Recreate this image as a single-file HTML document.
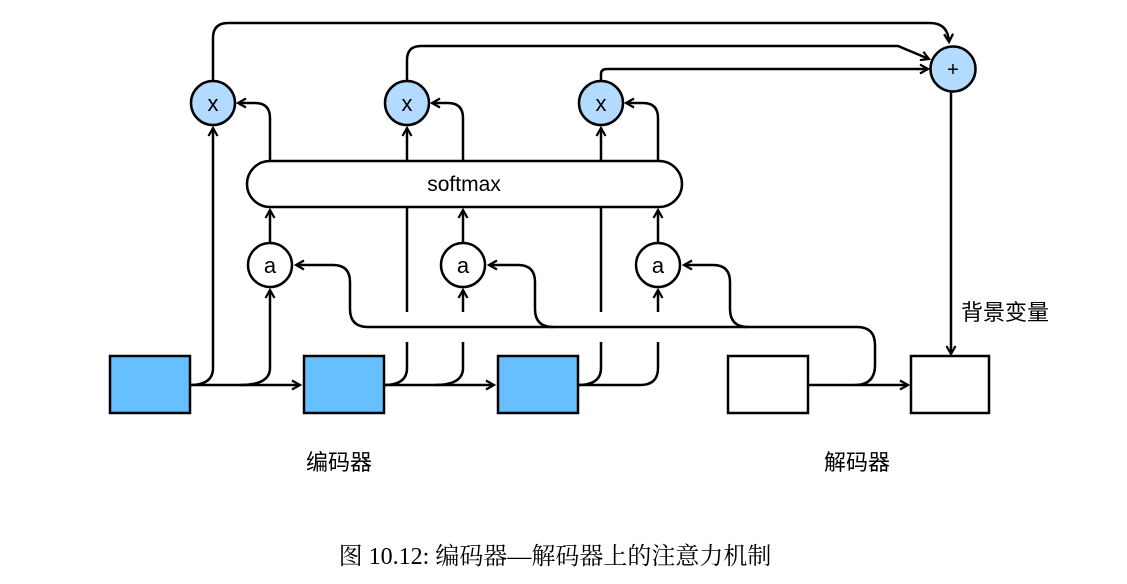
<!DOCTYPE html>
<html><head><meta charset="utf-8"><style>
html,body{margin:0;padding:0;background:#fff;}
svg{display:block;}
</style></head><body>
<svg width="1127" height="584" viewBox="0 0 1127 584" xmlns="http://www.w3.org/2000/svg">
<defs>
<marker id="ar" markerWidth="12" markerHeight="12" refX="9" refY="6" orient="auto" markerUnits="userSpaceOnUse">
<path d="M1,1.5 L9,6 L1,10.5" fill="none" stroke="#000" stroke-width="2.2"/>
</marker>
</defs>
<g fill="none" stroke="#000" stroke-width="2.5">
<!-- top feedback lines -->
<path d="M213,80 V38 Q213,23 228,23 H930 Q948,23 949,42" marker-end="url(#ar)"/>
<path d="M407,80 V60 Q407,46 421,46 H898 L929,59" marker-end="url(#ar)"/>
<path d="M601,80 V74 Q601,69 607,69 H928" marker-end="url(#ar)"/>
<!-- + to decoder -->
<path d="M951,92 V354" marker-end="url(#ar)"/>
<!-- enc box1 outputs -->
<path d="M190,385 H300" marker-end="url(#ar)"/>
<path d="M190,385 Q213,385 213,368 V128" marker-end="url(#ar)"/>
<path d="M240,385 Q270,385 270,368 V290" marker-end="url(#ar)"/>
<!-- enc box2 outputs -->
<path d="M384,385 H494" marker-end="url(#ar)"/>
<path d="M384,385 Q407,385 407,368 V342"/>
<path d="M435,385 Q463,385 463,368 V342"/>
<path d="M407,312 V207"/>
<path d="M463,312 V290" marker-end="url(#ar)"/>
<!-- enc box3 outputs -->
<path d="M578,385 Q601,385 601,368 V342"/>
<path d="M578,385 H640 Q658,385 658,368 V342"/>
<path d="M601,312 V207"/>
<path d="M658,312 V290" marker-end="url(#ar)"/>
<!-- a to softmax -->
<path d="M270,243 V210" marker-end="url(#ar)"/>
<path d="M463,243 V210" marker-end="url(#ar)"/>
<path d="M658,243 V210" marker-end="url(#ar)"/>
<!-- softmax to x -->
<path d="M407,161 V128" marker-end="url(#ar)"/>
<path d="M601,161 V128" marker-end="url(#ar)"/>
<path d="M270,161 V118 Q270,103 255,103 H238" marker-end="url(#ar)"/>
<path d="M463,161 V118 Q463,103 448,103 H432" marker-end="url(#ar)"/>
<path d="M658,161 V118 Q658,103 643,103 H626" marker-end="url(#ar)"/>
<!-- decoder bus -->
<path d="M808,385 H908" marker-end="url(#ar)"/>
<path d="M855,385 Q875,385 875,365 V345 Q875,327 857,327 H368 Q350,327 350,309 V282 Q350,265 333,265 H296" marker-end="url(#ar)"/>
<path d="M553,327 Q535,327 535,309 V282 Q535,265 518,265 H489" marker-end="url(#ar)"/>
<path d="M748,327 Q730,327 730,309 V282 Q730,265 713,265 H684" marker-end="url(#ar)"/>
<!-- softmax box -->
<rect x="247" y="161" width="435" height="46" rx="23" fill="#fff"/>
<!-- circles -->
<circle cx="213" cy="103" r="22" fill="#b3dbff"/>
<circle cx="407" cy="103" r="22" fill="#b3dbff"/>
<circle cx="601" cy="103" r="22" fill="#b3dbff"/>
<circle cx="953" cy="69" r="22.5" fill="#b3dbff"/>
<circle cx="270" cy="265" r="22" fill="#fff"/>
<circle cx="463" cy="265" r="22" fill="#fff"/>
<circle cx="658" cy="265" r="22" fill="#fff"/>
<!-- boxes -->
<rect x="110" y="356" width="80" height="57" fill="#66bfff"/>
<rect x="304" y="356" width="80" height="57" fill="#66bfff"/>
<rect x="498" y="356" width="80" height="57" fill="#66bfff"/>
<rect x="728" y="356" width="80" height="57" fill="#fff"/>
<rect x="911" y="356" width="78" height="57" fill="#fff"/>
</g>
<g font-family="Liberation Sans, sans-serif" font-size="22" text-anchor="middle" fill="#000">
<text x="213" y="111">x</text>
<text x="407" y="111">x</text>
<text x="601" y="111">x</text>
<text x="953" y="76" font-size="20">+</text>
<text x="270" y="273">a</text>
<text x="463" y="273">a</text>
<text x="658" y="273">a</text>
<text x="464" y="191" font-size="21">softmax</text>
</g>
<g font-family="Liberation Sans, 'Noto Sans CJK SC', sans-serif" font-size="22" fill="#000">
<text x="961" y="320">背景变量</text>
<text x="306" y="470">编码器</text>
<text x="824" y="470">解码器</text>
</g>
<text x="555" y="564" text-anchor="middle" font-family="'Liberation Serif','Noto Serif CJK SC',serif" font-size="24" fill="#000">图 10.12: 编码器—解码器上的注意力机制</text>
</svg>
</body></html>
